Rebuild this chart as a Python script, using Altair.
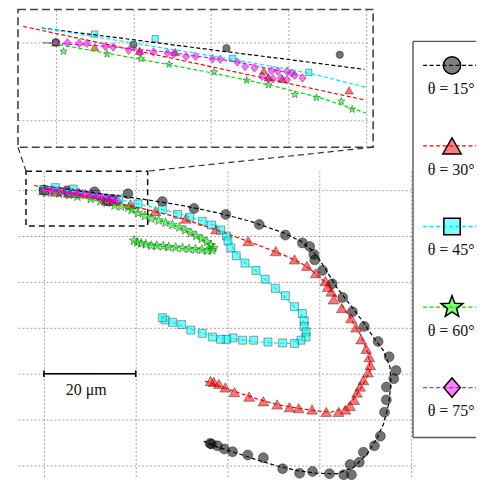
import math
import altair as alt
import pandas as pd

labels = ["θ = 15°", "θ = 30°", "θ = 45°", "θ = 60°", "θ = 75°"]
fill_colors = ["#000000", "#ff0000", "#00ffff", "#00ff00", "#ff00ff"]
line_colors = ["#000000", "#ff0000", "#00e8e8", "#00dd00", "#ff00ff"]

# ---- measured trajectories (micrometres) ----
x15 = [0, 5.0, 11.0, 18.3, 25.8, 32.7, 39.6, 46.9, 52.6, 56.3, 57.9, 58.8, 59.0, 60.7, 62.8, 65.1, 67.2, 69.8,
       72.8, 75.2, 76.7, 76.2, 74.6, 74.6, 74.2, 73.3, 72.0, 69.6, 68.7, 66.7, 67.0, 65.3, 62.2, 58.5, 55.7,
       52.0, 47.8, 44.4, 41.1, 39.3, 37.8, 36.5, 36.2]
y15 = [0, -0.15, -0.37, -0.79, -2.5, -4.0, -5.3, -7.5, -9.8, -11.5, -12.3, -14.0, -15.2, -17.5, -20.4, -23.4,
       -26.5, -29.7, -33.0, -36.3, -39.3, -41.1, -42.9, -45.7, -48.4, -53.6, -55.7, -57.1, -59.3, -59.8, -62.0,
       -62.0, -61.8, -61.3, -61.7, -60.7, -58.3, -57.7, -57.0, -56.4, -55.7, -55.3, -55.2]

x30 = [0, 2.5, 5.4, 7.7, 13.4, 13.7, 14.6, 18.9, 24.3, 30.9, 37.5, 44.5, 50.5, 54.6, 57.3, 59.2, 61.3, 61.8,
       62.6, 63.1, 64.9, 66.9, 68.0, 69.1, 70.2, 70.9, 71.1, 70.6, 69.6, 68.9, 68.2, 67.6, 66.7, 65.7, 64.2,
       61.5, 58.4, 55.5, 53.5, 50.8, 47.8, 44.7, 41.5, 39.5, 38.1, 37.0, 36.3]
y30 = [0, -0.3, -0.54, -0.62, -1.82, -2.25, -2.35, -3.09, -4.57, -6.2, -8.55, -11.1, -13.3, -15.1, -16.5, -18.1,
       -19.8, -21.1, -22.1, -23.8, -25.7, -27.9, -29.9, -32.5, -34.6, -36.4, -38.1, -39.7, -41.4, -42.8, -44.1,
       -45.7, -47.0, -47.8, -48.3, -48.3, -47.8, -47.5, -47.3, -46.7, -46.0, -45.0, -44.0, -43.0, -42.2, -41.8,
       -41.6]

x45 = [0, 2.5, 6.4, 11.4, 16.3, 20.5, 25.8, 29.1, 31.8, 34.5, 36.5, 38.5, 39.8, 40.1, 40.7, 41.9, 43.8, 46.2,
       48.2, 50.4, 52.6, 54.6, 56.3, 56.7, 56.7, 57.1, 57.1, 56.0, 54.6, 52.0, 48.8, 45.7, 43.3, 41.2, 39.8,
       38.5, 36.7, 34.5, 32.0, 30.0, 28.0, 26.4, 25.8]
y45 = [0, 0.54, 0.24, -1.03, -1.93, -3.0, -4.2, -5.3, -5.9, -6.8, -7.6, -8.7, -10.0, -11.1, -12.6, -14.3, -15.9,
       -17.5, -19.4, -21.4, -23.0, -25.4, -26.9, -28.5, -29.7, -30.9, -32.0, -32.7, -33.4, -33.3, -33.1, -32.7,
       -32.7, -32.2, -32.5, -32.5, -32.0, -31.2, -30.5, -29.3, -28.8, -28.3, -27.8]

x60 = [0, 0.5, 3.3, 5.5, 7.3, 10.2, 12.3, 13.7, 15.4, 16.8, 18.4, 19.1, 20.5, 22.0, 23.4, 25.0, 26.5, 28.0,
       29.5, 30.8, 32.0, 33.2, 34.4, 35.5, 36.4, 36.9, 36.7, 35.6, 34.4, 33.0, 31.6, 30.2, 28.7, 27.2, 26.0,
       24.6, 23.4, 22.2, 21.2, 20.3, 19.6]
y60 = [0, -0.58, -0.75, -1.05, -1.41, -1.91, -2.44, -2.74, -3.37, -3.56, -3.79, -4.31, -5.0, -5.6, -6.2, -6.6,
       -7.1, -7.6, -8.1, -8.7, -9.3, -10.0, -10.6, -11.3, -12.0, -12.6, -13.1, -13.2, -13.0, -12.9, -12.8,
       -12.6, -12.5, -12.4, -12.2, -12.1, -12.1, -11.8, -11.6, -11.4, -11.0]

x75 = [0, 0.75, 1.5, 2.0, 3.2, 3.7, 4.7, 5.4, 6.3, 7.2, 7.6, 8.4, 9.0, 10.1, 10.6, 11.7, 12.2, 12.8, 13.3,
       13.7, 13.9, 14.3, 14.0, 14.5, 14.9, 14.9, 15.2, 15.4, 15.9]
y75 = [0, -0.02, -0.06, -0.06, -0.26, -0.30, -0.51, -0.64, -0.62, -0.69, -0.73, -0.90, -0.90, -1.05, -1.09,
       -1.27, -1.56, -1.65, -2.19, -2.34, -1.82, -1.86, -2.34, -2.29, -1.86, -2.40, -1.97, -2.12, -2.29]

# ---- fitted curves (dashed) ----
fx15 = [-0.9, 5, 10, 15, 19.9, 25, 30.4, 37.8, 45, 52.2, 55.9, 58.5, 60.2, 62, 63.8, 66.8, 69.6, 71.8, 74,
        75.4, 75.6, 75.1, 74, 72.5, 70.4, 67.5, 63.8, 59.5, 55.2, 50.8, 46.5, 41.4, 37.8, 34.8]
fy15 = [0.92, 0.17, -0.47, -1.1, -1.74, -2.5, -3.4, -4.93, -6.8, -9.3, -11.1, -13.2, -15.4, -18.3, -21.2,
        -25.1, -28.8, -32.1, -35, -38.6, -42.2, -46.6, -50.9, -54.2, -57.5, -60.4, -61.8, -61.7, -61.1, -60.1,
        -58.8, -57.1, -56.0, -54.7]
fx30 = [-2.1, 5, 10, 15, 19.8, 24, 30.5, 37.8, 45, 52.2, 56, 58, 60.9, 63.8, 66.7, 68.9, 70.7, 71.1, 69.6,
        67.5, 65.3, 62.4, 58.8, 55.2, 50.8, 46.5, 41.4, 37.8, 34.8]
fy30 = [1.03, -0.49, -1.56, -2.64, -3.68, -4.6, -6.3, -8.75, -11.35, -14.1, -15.9, -17.2, -19.8, -23.4,
        -27.8, -31.4, -35.7, -39.3, -42.2, -45.5, -47.7, -48.4, -48.0, -47.5, -46.7, -45.5, -43.8, -42.6, -41.5]
fx45 = [-0.86, 5, 11.5, 16.3, 20, 23.3, 29, 34, 38, 40.3, 41.5, 43.5, 46.5, 50, 53.5, 56, 57, 57.1, 56, 53.5,
        50, 46, 42, 38, 34, 30, 27, 25.5]
fy45 = [0.92, -0.04, -1.11, -1.97, -2.89, -3.6, -5.0, -6.5, -8.0, -10.5, -13.3, -15.6, -17.9, -21.0, -24.3,
        -27.0, -29.7, -31.2, -32.6, -33.4, -33.3, -33.0, -32.5, -32.0, -31.0, -29.6, -28.4, -27.6]
fx60 = [-0.6, 5, 10, 13.6, 17, 20, 25, 30, 33, 35.5, 37, 36.5, 34, 30, 25, 21, 19.5]
fy60 = [0.0, -1.0, -1.95, -2.7, -3.55, -4.55, -6.4, -8.3, -9.8, -11.2, -12.5, -13.1, -13.0, -12.7, -12.2,
        -11.6, -11.0]
fx75 = [-0.86, 2.8, 7.2, 11.5, 15.8]
fy75 = [-0.02, -0.21, -0.62, -1.22, -2.12]

main_xticks = [0, 20, 40, 60, 80]
main_yticks = [0, -10, -20, -30, -40, -50, -60]
inset_xticks = [0, 5, 10, 15, 20]
inset_yticks = [0, -5]
scale_bar_len = [0, 20]
scale_bar_text = "20 μm"


def long_df(xs_list, ys_list):
    frames = []
    for lab, xs, ys in zip(labels, xs_list, ys_list):
        frames.append(pd.DataFrame({"series": lab, "x": xs, "y": ys, "i": list(range(len(xs)))}))
    return pd.concat(frames, ignore_index=True)


pts = long_df([x15, x30, x45, x60, x75], [y15, y30, y45, y60, y75])
fits = long_df([fx15, fx30, fx45, fx60, fx75], [fy15, fy30, fy45, fy60, fy75])


def star_path(r_in=0.42):
    p = []
    for k in range(10):
        r = 1.0 if k % 2 == 0 else r_in
        a = math.radians(-90 + 36 * k)
        p.append(f"{r * math.cos(a):.3f},{r * math.sin(a):.3f}")
    return "M" + "L".join(p) + "Z"


shapes = ["circle", "triangle-up", "square", star_path(), "M0,-1L0.85,0L0,1L-0.85,0Z"]
fill_scale = alt.Scale(domain=labels, range=fill_colors)
line_scale = alt.Scale(domain=labels, range=line_colors)
shape_scale = alt.Scale(domain=labels, range=shapes)


def pos(field, dom, ticks, ch):
    sc = alt.Scale(domain=dom, nice=False, zero=False)
    ax = alt.Axis(values=ticks, title=None)
    return alt.X(field, scale=sc, axis=ax) if ch == "x" else alt.Y(field, scale=sc, axis=ax)


def data_layers(X, Y, sizes, flt=None):
    lc = alt.Chart(fits)
    if flt is not None:
        lc = lc.transform_filter(flt)
    layers = []
    for lab, sz in zip(labels, sizes):
        c = alt.Chart(pts).transform_filter(alt.datum.series == lab)
        if flt is not None:
            c = c.transform_filter(flt)
        layers.append(c.mark_point(filled=True, size=sz, opacity=1, fillOpacity=0.55, stroke="#000",
                                   strokeOpacity=0.45, strokeWidth=0.8).encode(
            x=X, y=Y,
            fill=alt.Fill("series:N", scale=fill_scale, legend=None),
            shape=alt.Shape("series:N", scale=shape_scale, legend=None)))
    layers.append(lc.mark_line(strokeWidth=1.2, strokeDash=[4, 2.5]).encode(
        x=X, y=Y, color=alt.Color("series:N", scale=line_scale, legend=None),
        detail="series:N", order="i:Q"))
    return layers


# ---- inset (zoom of start region) ----
inset_xdom = [-2.44, 20.07]
inset_ydom = [-6.75, 2.12]
IX = pos("x:Q", inset_xdom, inset_xticks, "x")
IY = pos("y:Q", inset_ydom, inset_yticks, "y")
inset_filter = "datum.x >= -2.44 && datum.x <= 20.1 && datum.y >= -6.75 && datum.y <= 2.12"
inset_box = pd.DataFrame({"x": [-2.44], "x2": [20.45], "y": [2.12], "y2": [-6.75]})
inset_border = alt.Chart(inset_box).mark_rect(fillOpacity=0, stroke="#444", strokeWidth=1.6,
                                              strokeDash=[8, 4]).encode(
    x=IX, x2="x2:Q", y=IY, y2="y2:Q")
inset = alt.layer(*data_layers(IX, IY, [55, 70, 40, 60, 70], inset_filter), inset_border).properties(
    width=350, height=138)

# ---- main view ----
main_xdom = [-5.65, 81.3]
main_ydom = [-62.83, 4.13]
MX = pos("x:Q", main_xdom, main_xticks, "x")
MY = pos("y:Q", main_ydom, main_yticks, "y")

zoom_box = pd.DataFrame({"x": [-3.91], "x2": [22.6], "y": [4.13], "y2": [-7.83]})
zoom_rect = alt.Chart(zoom_box).mark_rect(fillOpacity=0, stroke="#111", strokeWidth=1.5,
                                          strokeDash=[6, 4]).encode(x=MX, x2="x2:Q", y=MY, y2="y2:Q")
conn = pd.DataFrame({"x": [-5.65, 71.74], "y": [9.35, 9.35], "x2": [-3.91, 22.6], "y2": [4.13, 4.13]})
connectors = alt.Chart(conn).mark_rule(stroke="#333", strokeWidth=1.2, strokeDash=[6, 4]).encode(
    x=MX, y=MY, x2="x2:Q", y2="y2:Q")

bar_y = -40
bar = pd.DataFrame({"x": [scale_bar_len[0], scale_bar_len[0], scale_bar_len[1]],
                    "x2": [scale_bar_len[1], scale_bar_len[0], scale_bar_len[1]],
                    "y": [bar_y, bar_y + 0.72, bar_y + 0.72],
                    "y2": [bar_y, bar_y - 0.72, bar_y - 0.72]})
bar_rules = alt.Chart(bar).mark_rule(color="#000", strokeWidth=1.6).encode(x=MX, y=MY, x2="x2:Q", y2="y2:Q")
bar_lab = pd.DataFrame({"x": [sum(scale_bar_len) / 2 - 0.8], "y": [bar_y - 3.5], "t": [scale_bar_text]})
bar_text = alt.Chart(bar_lab).mark_text(font="Liberation Serif", fontSize=16, color="#111",
                                        baseline="middle", align="center").encode(x=MX, y=MY, text="t:N")

# ---- legend (drawn as marks) ----
lx0, lx1, ly0, ly1 = 80.4, 94.1, 32.4, -53.9
leg_bg = alt.Chart(pd.DataFrame({"x": [lx0], "x2": [lx1], "y": [ly0], "y2": [ly1]})).mark_rect(
    fill="white").encode(x=MX, x2="x2:Q", y=MY, y2="y2:Q")
leg_edges = pd.DataFrame({"x": [lx0, lx0, lx0], "x2": [lx1, lx1, lx0],
                          "y": [ly0, ly1, ly0], "y2": [ly0, ly1, ly1]})
leg_frame = alt.Chart(leg_edges).mark_rule(color="#555", strokeWidth=1.4).encode(
    x=MX, x2="x2:Q", y=MY, y2="y2:Q")
leg = pd.DataFrame({"series": labels})
leg["k"] = range(len(labels))
leg["y"] = 27.17 - 17.55 * leg["k"]
leg["ty"] = leg["y"] - 5.2
leg["x"] = 82.6
leg["x2"] = 94.1
leg["mx"] = 88.9
leg["tx"] = 88.7
leg_lines = alt.Chart(leg).mark_rule(strokeWidth=1.3, strokeDash=[4, 2.5]).encode(
    x=MX, x2="x2:Q", y=MY, color=alt.Color("series:N", scale=line_scale, legend=None))
leg_marks = []
for lab, sz in zip(labels, [300, 340, 270, 520, 380]):
    leg_marks.append(alt.Chart(leg).transform_filter(alt.datum.series == lab).mark_point(
        filled=True, size=sz, opacity=1, fillOpacity=0.5, stroke="#000", strokeWidth=1.5).encode(
        x=pos("mx:Q", main_xdom, main_xticks, "x"), y=MY,
        fill=alt.Fill("series:N", scale=fill_scale, legend=None),
        shape=alt.Shape("series:N", scale=shape_scale, legend=None)))
leg_text = alt.Chart(leg).mark_text(font="Liberation Serif", fontSize=16, color="#111",
                                    baseline="middle", align="center").encode(
    x=pos("tx:Q", main_xdom, main_xticks, "x"), y=pos("ty:Q", main_ydom, main_yticks, "y"),
    text="series:N")

main = alt.layer(*data_layers(MX, MY, [100, 115, 64, 100, 90]), zoom_rect, connectors, bar_rules, bar_text,
                 leg_bg, leg_frame, leg_lines, *leg_marks, leg_text).properties(width=400, height=308)

chart = alt.vconcat(inset, main, spacing=24, bounds="flush").resolve_scale(
    x="independent", y="independent").properties(
    padding={"left": 9, "top": 0, "right": 0, "bottom": 0}).configure_axis(
    grid=True, gridColor="#9a9a9a", gridDash=[2, 2], gridWidth=0.9, labels=False, ticks=False,
    domain=False, minExtent=0).configure_view(strokeWidth=0)

chart.save("out.html", embed_options={"renderer": "svg", "actions": False})
